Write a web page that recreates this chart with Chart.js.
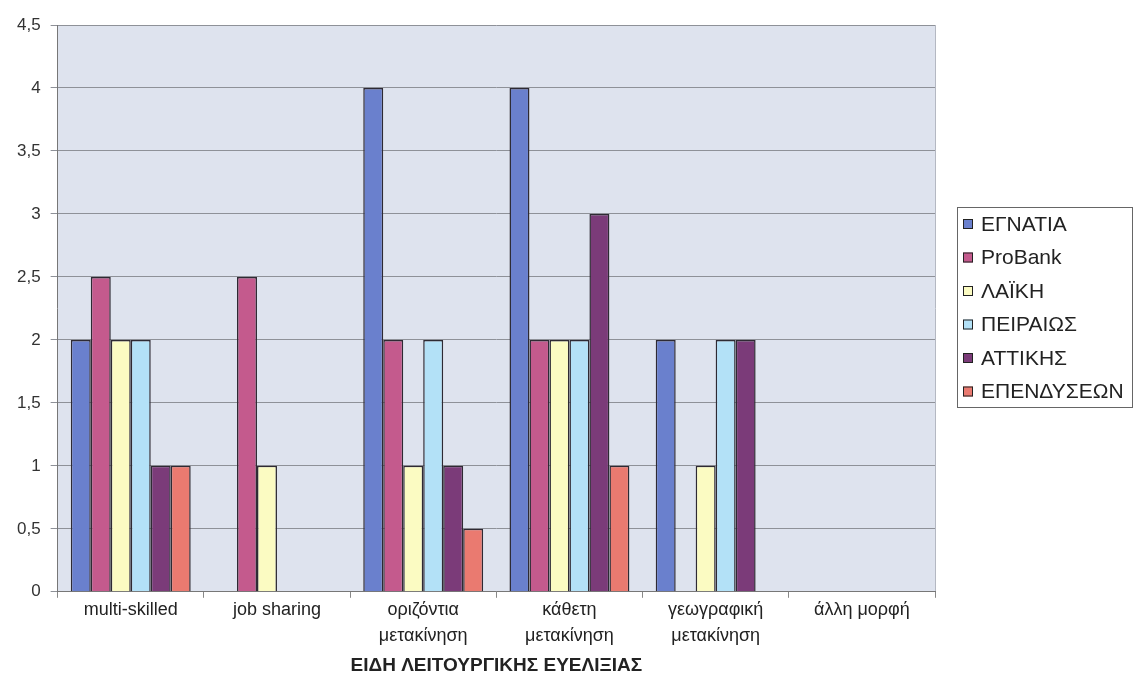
<!DOCTYPE html>
<html>
<head>
<meta charset="utf-8">
<script src="https://cdn.jsdelivr.net/npm/chart.js@4.4.1/dist/chart.umd.min.js"></script>
<style>
    body { margin: 0; background: #fff; }
    #wrap { width: 1133px; height: 694px; }
</style>
</head>
<body>
<div id="wrap"><canvas id="barChartCanvas" width="1133" height="694"></canvas></div>
<script>
const categorias = [
    'multi-skilled',
    'job sharing',
    ['οριζόντια', 'μετακίνηση'],
    ['κάθετη', 'μετακίνηση'],
    ['γεωγραφική', 'μετακίνηση'],
    'άλλη μορφή'
];
const series = ['ΕΓΝΑΤΙΑ', 'ProBank', 'ΛΑΪΚΗ', 'ΠΕΙΡΑΙΩΣ', 'ΑΤΤΙΚΗΣ', 'ΕΠΕΝΔΥΣΕΩΝ'];
const egnatia    = [2, 0, 4, 4, 2, 0];
const probank    = [2.5, 2.5, 2, 2, 0, 0];
const laiki      = [2, 1, 1, 2, 1, 0];
const peiraios   = [2, 0, 2, 2, 2, 0];
const attikis    = [1, 0, 1, 3, 2, 0];
const ependyseon = [1, 0, 0.5, 1, 0, 0];
const cores = ['#6a80cd', '#c45a8d', '#fbfbc2', '#b3e1f7', '#7b3b79', '#ea7a70'];
const tituloX = 'ΕΙΔΗ ΛΕΙΤΟΥΡΓΙΚΗΣ ΕΥΕΛΙΞΙΑΣ';

const valores = [egnatia, probank, laiki, peiraios, attikis, ependyseon];
const FONTE = '"Liberation Sans", Arial, sans-serif';

// fundo da área do gráfico + legenda com moldura (desenhada à mão)
const fundo = {
    id: 'fundo',
    beforeDraw(chart) {
        const { ctx, chartArea: a } = chart;
        ctx.save();
        ctx.fillStyle = '#dee3ee';
        ctx.fillRect(a.left, a.top, a.right - a.left, a.bottom - a.top);
        ctx.strokeStyle = '#b4b8c2';
        ctx.lineWidth = 1;
        ctx.beginPath();
        ctx.moveTo(Math.round(a.right) + 0.5, a.top);
        ctx.lineTo(Math.round(a.right) + 0.5, a.bottom);
        ctx.stroke();
        ctx.restore();
    },
    afterDraw(chart) {
        const ctx = chart.ctx;
        const x0 = chart.chartArea.right + 22;
        const y0 = 207;
        ctx.save();
        ctx.strokeStyle = '#666';
        ctx.lineWidth = 1;
        ctx.strokeRect(Math.round(x0) + 0.5, y0 + 0.5, 1133 - Math.round(x0) - 1, 200);
        ctx.font = '21px ' + FONTE;
        ctx.textBaseline = 'middle';
        chart.data.datasets.forEach((ds, i) => {
            const y = y0 + 17 + i * 33.5;
            ctx.fillStyle = ds.backgroundColor;
            ctx.fillRect(x0 + 6, y - 5, 10, 10);
            ctx.strokeStyle = '#222';
            ctx.strokeRect(x0 + 6.5, y - 4.5, 9, 9);
            ctx.fillStyle = '#222';
            ctx.fillText(ds.label, x0 + 24, y + 1);
        });
        ctx.restore();
    }
};

Chart.defaults.font.family = FONTE;
Chart.defaults.color = '#222';

const ctx = document.getElementById('barChartCanvas').getContext('2d');
new Chart(ctx, {
    type: 'bar',
    data: {
        labels: categorias,
        datasets: series.map((nome, i) => ({
            label: nome,
            data: valores[i],
            backgroundColor: cores[i],
            borderColor: '#2e2a33',
            borderWidth: 1.5,
            barPercentage: 1,
            categoryPercentage: 0.82
        }))
    },
    plugins: [fundo],
    options: {
        responsive: false,
        animation: false,
        layout: { padding: { top: 25, left: 7, right: 198, bottom: 17 } },
        plugins: {
            tooltip: { enabled: false },
            legend: { display: false }
        },
        scales: {
            x: {
                grid: { display: true, drawOnChartArea: false, offset: true, tickLength: 6, color: '#888' },
                border: { color: '#777' },
                ticks: { font: { size: 18, lineHeight: 1.4 }, maxRotation: 0, padding: 0, color: '#222' },
                title: { display: true, text: tituloX, font: { size: 19, weight: 'bold' }, color: '#222', padding: { top: 6, bottom: 0 } }
            },
            y: {
                min: 0,
                max: 4.5,
                ticks: {
                    stepSize: 0.5,
                    font: { size: 17 },
                    padding: 10,
                    color: '#333',
                    callback: v => String(v).replace('.', ',')
                },
                grid: { color: '#8e9198', tickLength: 7 },
                border: { color: '#777' }
            }
        }
    }
});
</script>
</body>
</html>
